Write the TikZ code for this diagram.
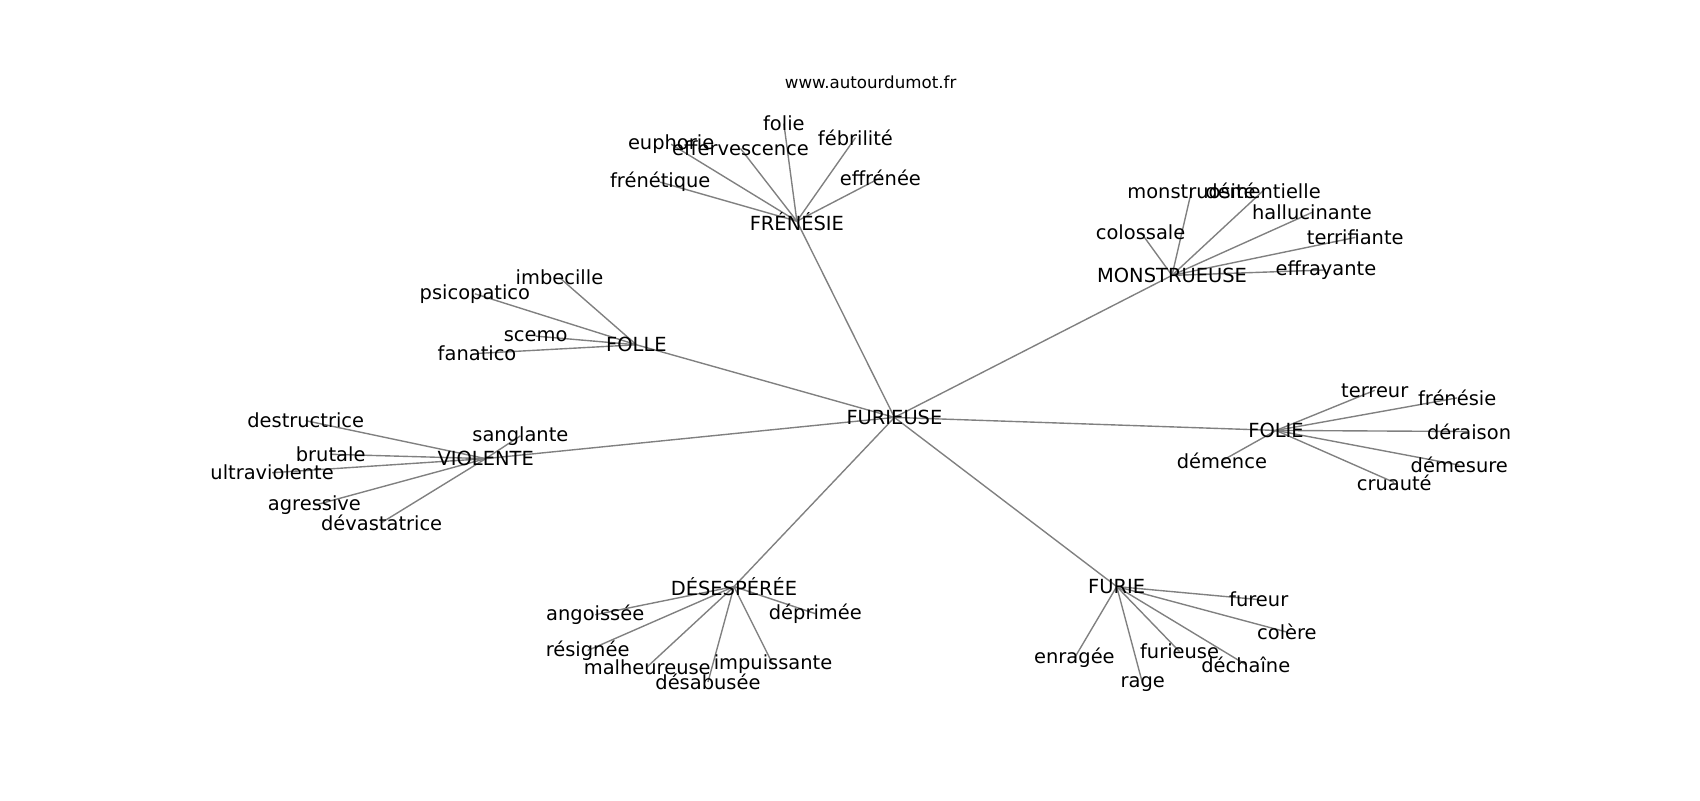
\documentclass[tikz,border=0pt]{standalone}
\usepackage{fontspec}
\setmainfont{DejaVu Sans}
\usetikzlibrary{backgrounds}
\begin{document}
\begin{tikzpicture}[x=0.7806pt,y=-0.7806pt,
  lbl/.style={font=\fontsize{14}{16}\selectfont, inner sep=0pt, text=black},
  ttl/.style={font=\fontsize{12}{14}\selectfont, inner sep=0pt, text=black},
  edge/.style={draw=gray, line width=1pt}]
\useasboundingbox (0,0) rectangle (1568,738);
\node[ttl] (title) at (803,76) {www.autourdumot.fr};
% hubs
\node[lbl] (furieuse) at (825,385) {FURIEUSE};
\node[lbl] (frenesieH) at (735,204) {FRÉNÉSIE};
\node[lbl] (monstrueuse) at (1081,254) {MONSTRUEUSE};
\node[lbl] (folle) at (587,318) {FOLLE};
\node[lbl] (violente) at (448,423) {VIOLENTE};
\node[lbl] (folieH) at (1177,397) {FOLIE};
\node[lbl] (desesperee) at (677,541) {DÉSESPÉRÉE};
\node[lbl] (furie) at (1030,541) {FURIE};
% FRENESIE leaves
\node[lbl] (frenetique) at (609,168) {frénétique};
\node[lbl] (euphorie) at (619,133) {euphorie};
\node[lbl] (effervescence) at (683,137) {effervescence};
\node[lbl] (folie) at (723,114) {folie};
\node[lbl] (febrilite) at (789,127) {fébrilité};
\node[lbl] (effrenee) at (812,164) {effrénée};
% MONSTRUEUSE leaves
\node[lbl] (monstruosite) at (1099,176) {monstruosité};
\node[lbl] (dementielle) at (1165,176) {démentielle};
\node[lbl] (hallucinante) at (1210,196) {hallucinante};
\node[lbl] (colossale) at (1052,214) {colossale};
\node[lbl] (terrifiante) at (1250,219) {terrifiante};
\node[lbl] (effrayante) at (1223,249) {effrayante};
% FOLLE leaves
\node[lbl] (imbecille) at (516,256) {imbecille};
\node[lbl] (psicopatico) at (438,271) {psicopatico};
\node[lbl] (scemo) at (494,310) {scemo};
\node[lbl] (fanatico) at (440,326) {fanatico};
% VIOLENTE leaves
\node[lbl] (sanglante) at (480,402) {sanglante};
\node[lbl] (destructrice) at (282,388) {destructrice};
\node[lbl] (brutale) at (305,419) {brutale};
\node[lbl] (ultraviolente) at (251,436) {ultraviolente};
\node[lbl] (agressive) at (290,466) {agressive};
\node[lbl] (devastatrice) at (352,482) {dévastatrice};
% FOLIE leaves
\node[lbl] (terreur) at (1268,360) {terreur};
\node[lbl] (frenesie) at (1344,367) {frénésie};
\node[lbl] (deraison) at (1355,398) {déraison};
\node[lbl] (demesure) at (1346,429) {démesure};
\node[lbl] (cruaute) at (1286,445) {cruauté};
\node[lbl] (demence) at (1127,425) {démence};
% DESESPEREE leaves
\node[lbl] (angoissee) at (549,567) {angoissée};
\node[lbl] (deprimee) at (752,566) {déprimée};
\node[lbl] (resignee) at (542,600) {résignée};
\node[lbl] (malheureuse) at (597,615) {malheureuse};
\node[lbl] (impuissante) at (713,613) {impuissante};
\node[lbl] (desabusee) at (653,629) {désabusée};
% FURIE leaves
\node[lbl] (fureur) at (1161,553) {fureur};
\node[lbl] (colere) at (1187,583) {colère};
\node[lbl] (enragee) at (991,607) {enragée};
\node[lbl] (furieuseL) at (1088,601) {furieuse};
\node[lbl] (dechaine) at (1149,613) {déchaîne};
\node[lbl] (rage) at (1054,631) {rage};
\begin{scope}[on background layer]
\foreach \a/\b in {furieuse/frenesieH, furieuse/monstrueuse, furieuse/folle,
  furieuse/violente, furieuse/folieH, furieuse/desesperee, furieuse/furie,
  frenesieH/frenetique, frenesieH/euphorie, frenesieH/effervescence,
  frenesieH/folie, frenesieH/febrilite, frenesieH/effrenee,
  monstrueuse/monstruosite, monstrueuse/dementielle, monstrueuse/hallucinante,
  monstrueuse/colossale, monstrueuse/terrifiante, monstrueuse/effrayante,
  folle/imbecille, folle/psicopatico, folle/scemo, folle/fanatico,
  violente/sanglante, violente/destructrice, violente/brutale,
  violente/ultraviolente, violente/agressive, violente/devastatrice,
  folieH/terreur, folieH/frenesie, folieH/deraison, folieH/demesure,
  folieH/cruaute, folieH/demence,
  desesperee/angoissee, desesperee/deprimee, desesperee/resignee,
  desesperee/malheureuse, desesperee/impuissante, desesperee/desabusee,
  furie/fureur, furie/colere, furie/enragee, furie/furieuseL,
  furie/dechaine, furie/rage}
  \draw[edge] (\a.center) -- (\b.center);
\end{scope}
\end{tikzpicture}
\end{document}
